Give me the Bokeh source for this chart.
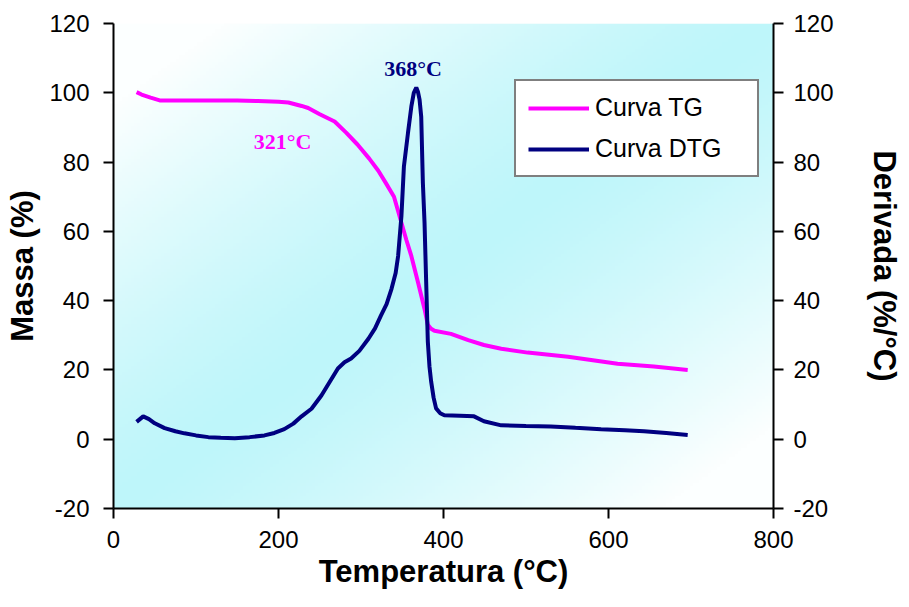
import numpy as np
from bokeh.plotting import figure
from bokeh.models import Range1d, LinearAxis, Legend, LegendItem, Label, FixedTicker
from bokeh.embed import file_html
from bokeh.resources import INLINE

# ---- data ----
tg_temp = [28, 34, 45, 56, 100, 150, 175, 200, 212, 228, 236, 250, 268, 282, 296, 310,
           321, 330, 340, 349, 355, 361, 369, 377, 381, 385, 389, 409, 430, 449, 470,
           502, 551, 611, 655, 696]
tg_mass = [100.2, 99.5, 98.6, 97.8, 97.8, 97.8, 97.6, 97.4, 97.2, 96.2, 95.6, 93.8, 91.7,
           88.5, 85.0, 81.0, 77.5, 74.0, 70.0, 62.5, 57.5, 52.9, 45.4, 37.6, 33.0, 31.9,
           31.3, 30.4, 28.6, 27.2, 26.1, 25.0, 23.8, 21.8, 21.0, 20.0]

dtg_temp = [28, 36, 43, 50, 62, 75, 86, 100, 115, 130, 147, 165, 183, 195, 207, 218, 228,
            240, 252, 262, 272, 280, 288, 298, 309, 317, 324, 331, 337, 342, 345, 349, 352,
            357, 361, 364, 367, 369, 371, 373, 375, 377, 379, 381, 383, 385, 388, 391, 396,
            401, 420, 437, 449, 470, 500, 530, 560, 591, 620, 643, 670, 696]
dtg_deriv = [5.0, 6.6, 5.8, 4.6, 3.2, 2.3, 1.7, 1.1, 0.6, 0.4, 0.3, 0.6, 1.1, 1.8, 2.9,
             4.5, 6.6, 8.8, 12.6, 16.5, 20.4, 22.2, 23.3, 25.5, 29.0, 32.0, 35.6, 39.0,
             43.4, 48.0, 52.9, 64.4, 78.7, 88.5, 96.0, 100.0, 101.5, 100.3, 98.0, 93.1,
             74.0, 62.6, 45.4, 28.2, 21.0, 16.7, 12.0, 8.9, 7.5, 6.9, 6.8, 6.6, 5.2, 4.0,
             3.8, 3.7, 3.3, 2.9, 2.6, 2.3, 1.8, 1.2]

x_ticks = [0, 200, 400, 600, 800]
y_ticks = [-20, 0, 20, 40, 60, 80, 100, 120]
y_tick_labels = ["-20", "0", "20", "40", "60", "80", "100", "120"]
x_lim = (0, 800)
y_lim = (-20, 120)

series_names = ["Curva TG", "Curva DTG"]
annot_text = ["321°C", "368°C"]
annot_x = [205, 363]
annot_y = [86, 107]

# ---- styles ----
TG_COLOR = "#ff00ff"
DTG_COLOR = "#000080"
SANS = "Liberation Sans"
SERIF = "Liberation Serif"

p = figure(width=909, height=607, output_backend="svg", toolbar_location=None,
           x_range=Range1d(*x_lim), y_range=Range1d(*y_lim),
           min_border_left=113, min_border_right=136, min_border_top=23,
           min_border_bottom=99)
p.extra_y_ranges = {"dtg": Range1d(*y_lim)}
p.outline_line_color = None
p.background_fill_color = "white"
p.border_fill_color = "white"
p.xgrid.visible = False
p.ygrid.visible = False

# gradient plot-area background (style only)
H, W = 150, 220
u = np.linspace(0, 1, W)[None, :]
v = np.linspace(0, 1, H)[:, None]
t = np.clip(np.abs(u - v) * 1.2, 0, 1) ** 1.3
cyan = np.array([190, 246, 250])
white = np.array([252, 255, 255])
rgb = cyan[None, None, :] * (1 - t[..., None]) + white[None, None, :] * t[..., None]
img = np.empty((H, W), dtype=np.uint32)
view = img.view(dtype=np.uint8).reshape((H, W, 4))
view[..., 0] = rgb[..., 0].astype(np.uint8)
view[..., 1] = rgb[..., 1].astype(np.uint8)
view[..., 2] = rgb[..., 2].astype(np.uint8)
view[..., 3] = 255
p.image_rgba(image=[img], x=x_lim[0], y=y_lim[0], dw=x_lim[1] - x_lim[0],
             dh=y_lim[1] - y_lim[0], level="image")

r_tg = p.line(tg_temp, tg_mass, line_color=TG_COLOR, line_width=4)
r_dtg = p.line(dtg_temp, dtg_deriv, line_color=DTG_COLOR, line_width=4,
               y_range_name="dtg")

def style_axis(ax, ticks):
    ax.ticker = FixedTicker(ticks=ticks)
    ax.minor_tick_line_color = None
    ax.major_tick_out = 10
    ax.major_tick_in = 0
    ax.axis_line_width = 2
    ax.major_tick_line_width = 2
    ax.axis_line_color = "black"
    ax.major_tick_line_color = "black"
    ax.major_label_text_font = SANS
    ax.major_label_text_font_size = "24px"
    ax.major_label_text_color = "black"
    ax.axis_label_text_font = SANS
    ax.axis_label_text_font_style = "bold"
    ax.axis_label_text_font_size = "31px"
    ax.axis_label_text_color = "black"

y_overrides = {tk: lab for tk, lab in zip(y_ticks, y_tick_labels)}

xa = p.xaxis[0]
style_axis(xa, x_ticks)
xa.axis_label = "Temperatura (°C)"
xa.major_label_standoff = 12
xa.axis_label_standoff = 3

ya = p.yaxis[0]
style_axis(ya, y_ticks)
ya.major_label_overrides = y_overrides
ya.axis_label = "Massa (%)"
ya.major_label_standoff = 14
ya.axis_label_standoff = 6

ra = LinearAxis(y_range_name="dtg")
style_axis(ra, y_ticks)
ra.major_label_overrides = y_overrides
ra.axis_label = "Derivada (%/°C)"
ra.major_label_standoff = 10
ra.axis_label_standoff = 30
p.add_layout(ra, "right")

legend = Legend(items=[LegendItem(label=series_names[0], renderers=[r_tg]),
                       LegendItem(label=series_names[1], renderers=[r_dtg])],
                location=(401, 331))
legend.label_text_font = SANS
legend.label_text_font_size = "25px"
legend.label_text_color = "black"
legend.glyph_width = 61
legend.glyph_height = 24
legend.label_height = 24
legend.label_width = 150
legend.label_standoff = 6
legend.padding = 12
legend.spacing = 12
legend.border_line_color = "black"
legend.border_line_width = 2
legend.background_fill_color = "white"
legend.background_fill_alpha = 1
p.add_layout(legend)

for txt, lx, ly, col in zip(annot_text, annot_x, annot_y, [TG_COLOR, DTG_COLOR]):
    p.add_layout(Label(x=lx, y=ly, text=txt, text_align="center",
                       text_baseline="alphabetic", text_font=SERIF,
                       text_font_style="bold", text_font_size="22px",
                       text_color=col))

open("out.html", "w").write(file_html(p, INLINE))
